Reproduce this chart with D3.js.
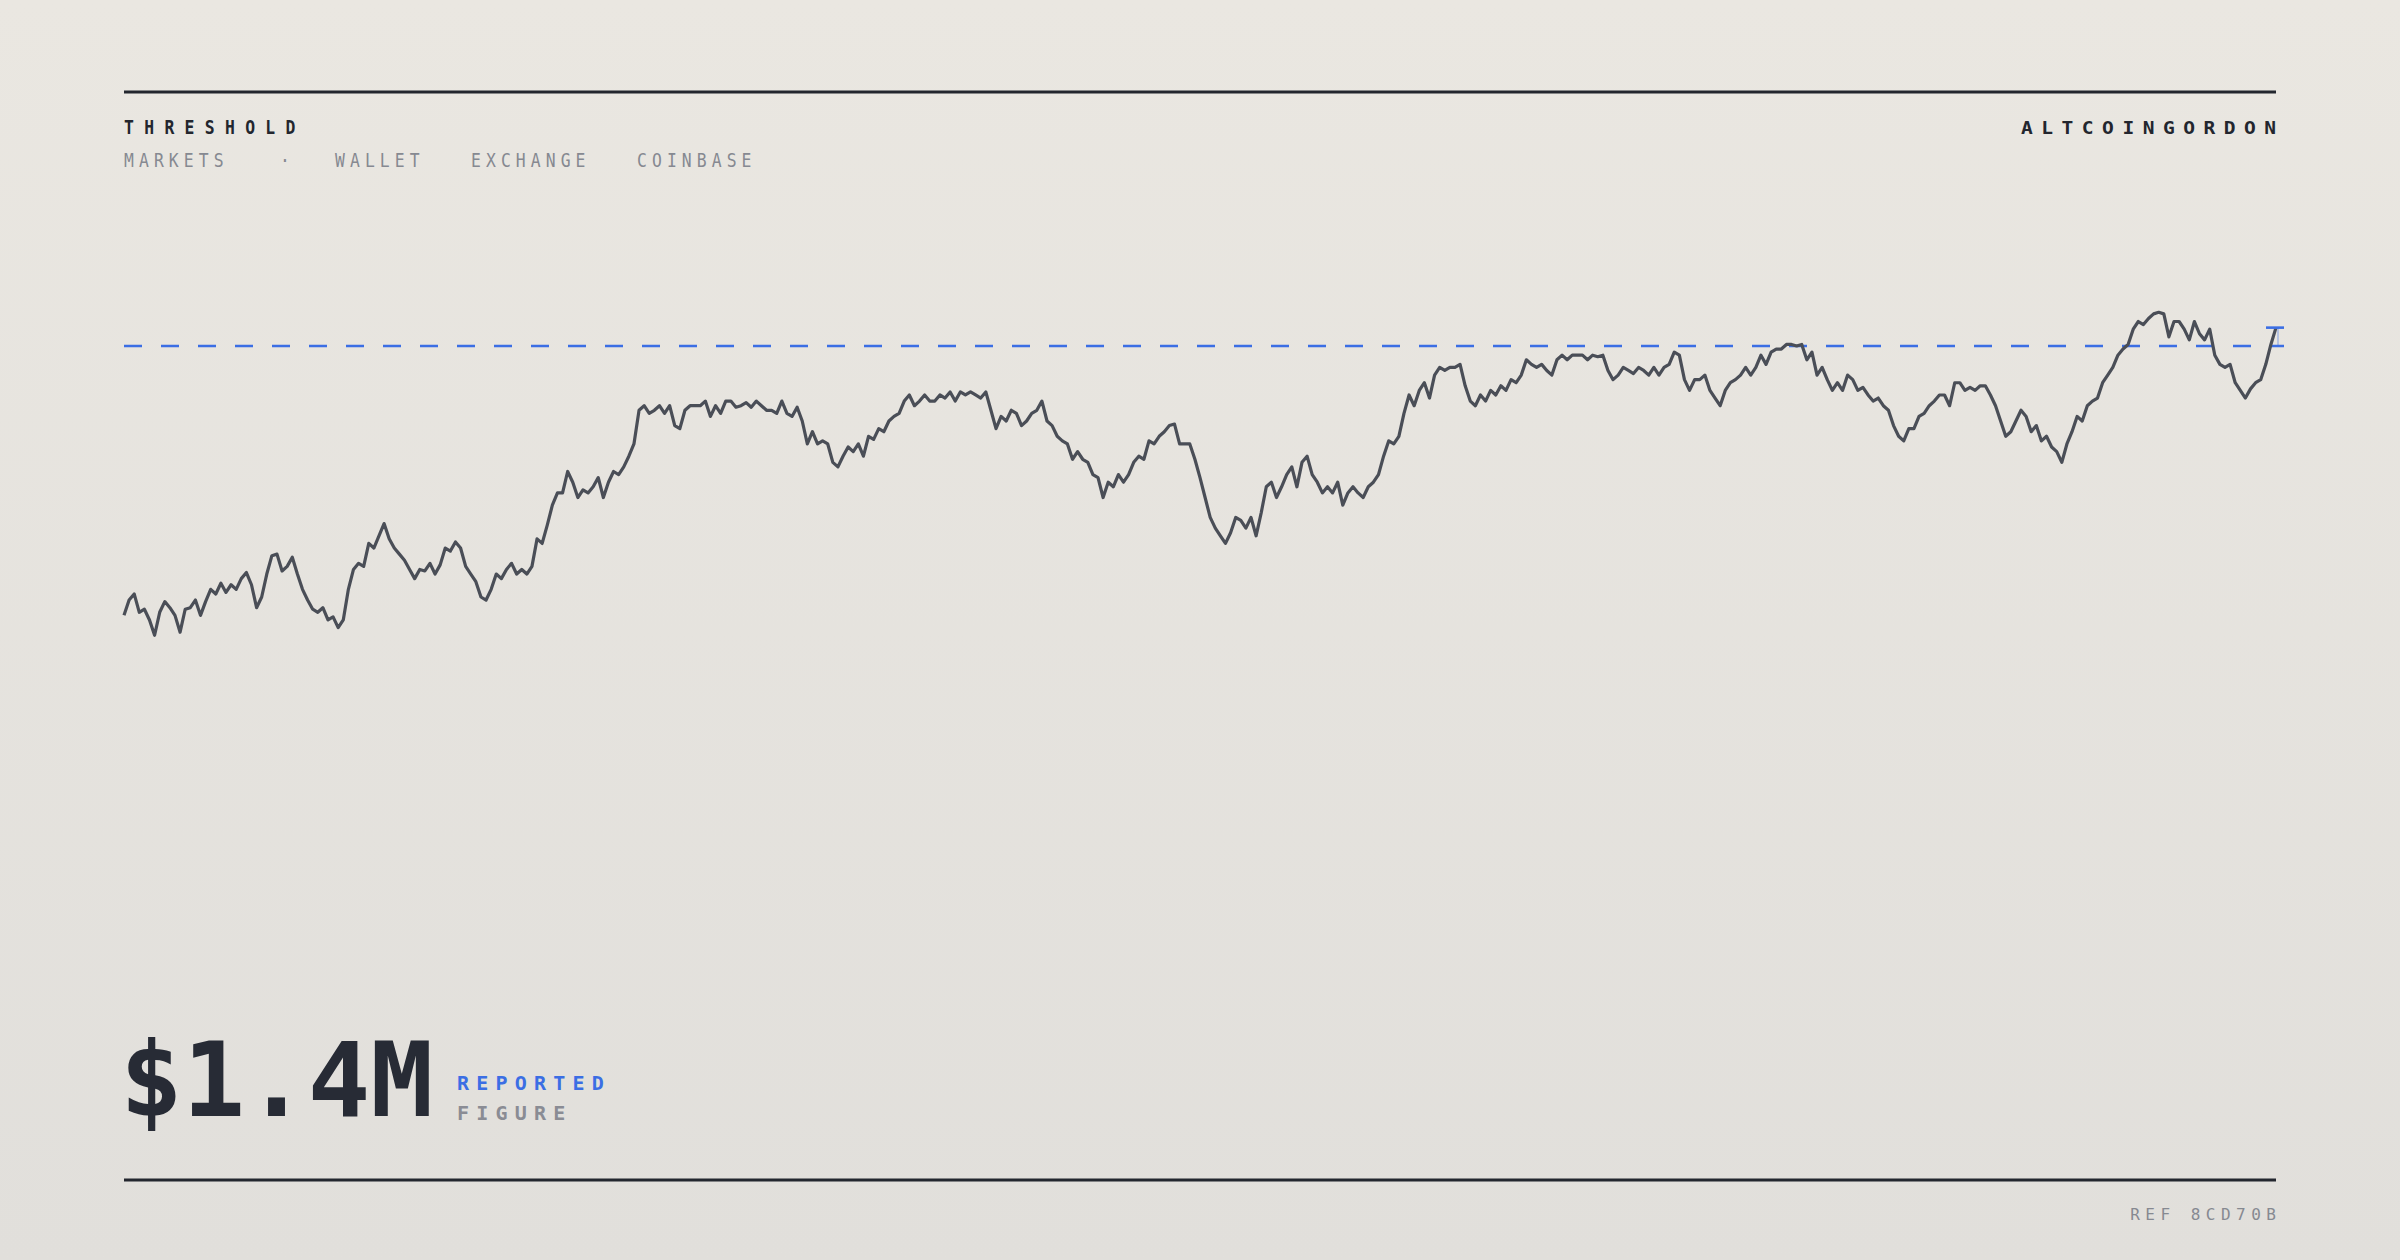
<!DOCTYPE html>
<html><head><meta charset="utf-8">
<script src="https://cdn.jsdelivr.net/npm/d3@7"></script>
<style>
html,body{margin:0;padding:0;width:2400px;height:1260px;overflow:hidden;}
svg{display:block;}
</style></head>
<body><svg id="c" width="2400" height="1260"></svg>
<script>
// Series values (index units; threshold = 374)
const values = [198,208,212,200,202,195,185,200,207,203,198,187,202,203,208,198,207,215,212,219,213,218,215,222,226,218,203,210,225,237,238,227,230,236,225,215,208,202,200,203,195,197,190,195,215,228,232,230,245,242,250,258,248,242,238,234,228,222,228,227,232,225,231,242,240,246,242,230,225,220,210,208,215,225,222,228,232,225,228,225,230,248,245,257,270,278,278,292,285,275,280,278,282,288,275,285,292,290,295,302,310,332,335,330,332,335,330,335,322,320,332,335,335,335,338,328,335,330,338,338,334,335,337,334,338,335,332,332,330,338,330,328,334,325,310,318,310,312,310,298,295,302,308,305,310,302,315,313,320,318,325,328,330,338,342,335,338,342,338,338,342,340,344,338,344,342,344,342,340,344,332,320,328,325,332,330,322,325,330,332,338,325,322,315,312,310,300,305,300,298,290,288,275,285,282,290,285,290,298,302,300,312,310,315,318,322,323,310,310,310,300,288,275,262,255,250,245,252,262,260,255,262,250,265,282,285,275,282,290,295,282,298,302,290,285,278,282,278,285,270,278,282,278,275,282,285,290,302,312,310,315,330,342,335,345,350,340,355,360,358,360,360,362,348,338,335,342,338,345,342,348,345,352,350,355,365,362,360,362,358,355,365,368,365,368,368,368,365,368,367,368,358,352,355,360,358,356,360,358,355,360,355,360,362,370,368,352,345,352,352,355,345,340,335,345,350,352,355,360,355,360,368,362,370,372,372,375,375,374,375,365,370,355,360,352,345,350,345,355,352,345,347,342,338,340,335,332,322,315,312,320,320,328,330,335,338,342,342,335,350,350,345,347,345,348,348,342,335,325,315,318,325,332,328,318,322,312,315,308,305,298,310,318,328,325,335,338,340,350,355,360,368,372,375,385,390,388,392,395,396,395,380,390,390,385,378,390,382,378,385,368,362,360,362,350,345,340,346,350,352,362,375,386];
const threshold = 374;
const titleText = "THRESHOLD";
const navItems = ["MARKETS","·","WALLET","EXCHANGE","COINBASE"];
const brandText = "ALTCOINGORDON";
const figureText = "$1.4M";
const figureLabels = ["REPORTED","FIGURE"];
const refText = "REF 8CD70B";

const svg = d3.select("#c");
const W=2400,H=1260, L=124, R=2276;
const defs = svg.append("defs");
const g = defs.append("linearGradient").attr("id","bg").attr("x1",0).attr("y1",0).attr("x2",0).attr("y2",1);
g.append("stop").attr("offset","0%").attr("stop-color","#eae7e1");
g.append("stop").attr("offset","100%").attr("stop-color","#e1dfdb");
svg.append("rect").attr("width",W).attr("height",H).attr("fill","url(#bg)");

const mono = "'DejaVu Sans Mono', monospace";
const ink = "#23262e", grey="#868991", blue="#3b6ee4";

svg.append("line").attr("x1",L).attr("x2",R).attr("y1",92).attr("y2",92).attr("stroke",ink).attr("stroke-width",3);
svg.append("line").attr("x1",L).attr("x2",R).attr("y1",1180).attr("y2",1180).attr("stroke",ink).attr("stroke-width",3);

svg.append("text").text(titleText).attr("transform",`translate(${L},134) scale(0.82,1)`)
  .attr("font-family",mono).attr("font-weight","bold").attr("font-size",20).attr("letter-spacing",12.6).attr("fill",ink);

const navX = [124,280,335,471,637];
navItems.forEach((t,i)=>{
  svg.append("text").text(t).attr("transform",`translate(${navX[i]},167) scale(0.82,1)`)
    .attr("font-family",mono).attr("font-size",20).attr("letter-spacing",6.2).attr("fill",grey);
});

svg.append("text").text(brandText).attr("transform",`translate(${R+7.4*1.15},134) scale(1.15,1)`)
  .attr("text-anchor","end").attr("font-family",mono).attr("font-weight","bold").attr("font-size",17)
  .attr("letter-spacing",7.4).attr("fill",ink);

svg.append("text").text(refText).attr("x",R+5.5).attr("y",1220).attr("text-anchor","end")
  .attr("font-family",mono).attr("font-size",16).attr("letter-spacing",5.5).attr("fill",grey);

// chart
const x = d3.scaleLinear().domain([0, values.length-1]).range([L, R]);
const y = d3.scaleLinear().domain([0, threshold]).range([918.4, 346]);

svg.append("line").attr("x1",L).attr("x2",R+8).attr("y1",y(threshold)).attr("y2",y(threshold))
  .attr("stroke",blue).attr("stroke-width",2.6).attr("stroke-dasharray","18,19");

const line = d3.line().x((d,i)=>x(i)).y(d=>y(d));
svg.append("path").datum(values).attr("d",line).attr("fill","none")
  .attr("stroke","#4a4e57").attr("stroke-width",3.2).attr("stroke-linejoin","round");

const last = values[values.length-1];
svg.append("line").attr("x1",R+2).attr("x2",R+2).attr("y1",y(threshold)).attr("y2",y(last))
  .attr("stroke",blue).attr("stroke-opacity",0.4).attr("stroke-width",1.5);
svg.append("line").attr("x1",R-10).attr("x2",R+8).attr("y1",y(last)).attr("y2",y(last))
  .attr("stroke",blue).attr("stroke-width",2.6);

// big figure
svg.append("text").text(figureText).attr("x",L-4).attr("y",1116)
  .attr("font-family",mono).attr("font-weight","bold").attr("font-size",104).attr("fill","#272b35");
svg.append("text").text(figureLabels[0]).attr("x",457).attr("y",1090)
  .attr("font-family",mono).attr("font-weight","bold").attr("font-size",20).attr("letter-spacing",7.2).attr("fill",blue);
svg.append("text").text(figureLabels[1]).attr("x",457).attr("y",1120)
  .attr("font-family",mono).attr("font-weight","bold").attr("font-size",20).attr("letter-spacing",7.2).attr("fill","#8a8c94");
</script></body></html>
